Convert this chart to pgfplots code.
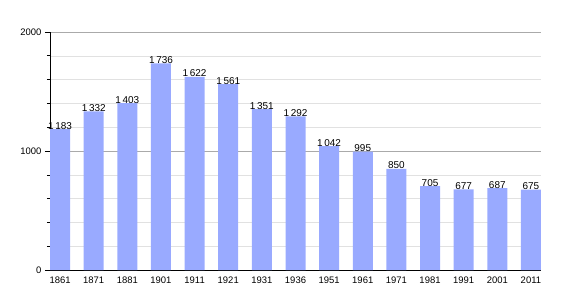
\documentclass[border=0pt]{standalone}
\usepackage{fontspec}
\setmainfont{Liberation Sans}
\usepackage{pgfplots}
\pgfplotsset{compat=1.18}
\definecolor{barblue}{RGB}{153,170,255}
\definecolor{majgrid}{RGB}{170,170,170}
\definecolor{mingrid}{RGB}{225,225,225}
\begin{document}
\begin{tikzpicture}
\useasboundingbox (0,0) rectangle (570bp,300bp);
\begin{axis}[
  at={(50bp,30bp)}, anchor=south west,
  scale only axis,
  width=491bp, height=238bp,
  xmin=-0.3, xmax=14.3,
  ymin=0, ymax=2000,
  axis x line*=bottom, axis y line*=left,
  axis line style={black, line width=0.8pt, -},
  xtick=data,
  xticklabels={1861,1871,1881,1901,1911,1921,1931,1936,1951,1961,1971,1981,1991,2001,2011},
  x tick label style={font=\fontsize{9.5}{11}\selectfont, yshift=2bp},
  xtick style={draw=none},
  ytick={0,1000,2000},
  minor ytick={200,400,600,800,1200,1400,1600,1800},
  yticklabels={0,1000,2000},
  y tick label style={font=\fontsize{9.5}{11}\selectfont},
  ytick style={black, line width=0.6pt},
  tick align=outside,
  major tick length=5bp, minor tick length=3bp,
  ymajorgrids, yminorgrids,
  major grid style={majgrid, line width=0.6pt},
  minor grid style={mingrid, line width=0.5pt},
  clip=false,
  /pgf/number format/assume math mode=true,
  nodes near coords,
  nodes near coords style={font=\fontsize{10}{12}\selectfont, /pgf/number format/1000 sep={\,}, inner sep=0pt, anchor=south, yshift=-0.3bp},
]
\addplot[ybar, bar width=20bp, fill=barblue, draw=none] coordinates {
(0,1183) (1,1332) (2,1403) (3,1736) (4,1622) (5,1561) (6,1351) (7,1292)
(8,1042) (9,995) (10,850) (11,705) (12,677) (13,687) (14,675)};
\end{axis}
\end{tikzpicture}
\end{document}
